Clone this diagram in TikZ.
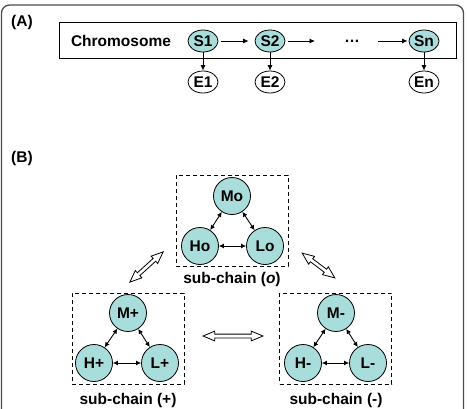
\documentclass[tikz,border=0pt]{standalone}
\usepackage{fontspec}
\setmainfont{Liberation Sans}
\usetikzlibrary{shapes.geometric,shapes.arrows,arrows.meta}
\definecolor{stateteal}{RGB}{168,221,219}
\begin{document}
\begin{tikzpicture}[x=1pt, y=-1pt, font=\bfseries\fontsize{15.5}{18}\selectfont]
	% Define styles
	\tikzstyle{state} = [ellipse, draw, line width=0.8pt, fill=stateteal, minimum width=30pt, minimum height=22pt, inner sep=0pt]
	\tikzstyle{emit} = [ellipse, draw, line width=0.8pt, fill=white, minimum width=30pt, minimum height=22pt, inner sep=0pt]
	\tikzstyle{hidden} = [circle, draw, line width=0.8pt, fill=stateteal, minimum size=37pt, inner sep=0pt]
	\tikzstyle{chainbox} = [draw, dash pattern=on 4pt off 3pt, line width=0.9pt, minimum width=112pt, minimum height=91pt]
	\tikzstyle{link} = [line width=0.8pt, -{Latex[length=5.5pt,width=5pt]}]
	\tikzstyle{swap} = [line width=0.9pt, {Latex[length=5pt,width=5pt]}-{Latex[length=5pt,width=5pt]}]
	\tikzstyle{hollow} = [double arrow, draw, line width=0.8pt, fill=white, sloped, inner xsep=0pt, inner ysep=1.5pt, double arrow head extend=3pt, double arrow tip angle=45]
	
	\useasboundingbox (0,0) rectangle (467,408);
	\clip (0,0) rectangle (467,408);
	\draw[gray!60!black, line width=1.3pt, rounded corners=8pt] (1.5,5) rectangle (463.5,430);
	
	% Part (A)
	\node (labA) at (22,22) {(A)};
	\node[draw, line width=0.8pt, minimum width=397pt, minimum height=36pt, anchor=north west, inner sep=0pt] (chrom) at (59,22) {};
	\node (chromlab) at (121,41) {Chromosome};
	\node[state] (s1) at (203,41) {S1};
	\node[state] (s2) at (270,41) {S2};
	\node (dots) at (352,41) {…};
	\node[state] (sn) at (424,41) {Sn};
	\node[emit] (e1) at (203,82) {E1};
	\node[emit] (e2) at (270,82) {E2};
	\node[emit] (en) at (424,82) {En};
	\coordinate (gapa) at (315,41);
	\coordinate (gapb) at (378,41);
	
	\draw[link, shorten <=3pt, shorten >=6pt] (s1) -- (s2);
	\draw[link, shorten <=3pt] (s2) -- (gapa);
	\draw[link, shorten >=1pt] (gapb) -- (sn);
	\draw[link] (s1) -- (e1);
	\draw[link] (s2) -- (e2);
	\draw[link] (sn) -- (en);
	
	% Part (B)
	\node (labB) at (22,158) {(B)};
	
	% sub-chain (o)
	\node[chainbox] (boxo) at (232,220.5) {};
	\node[hidden] (mo) at (232,196) {Mo};
	\node[hidden] (ho) at (200,246) {Ho};
	\node[hidden] (lo) at (265,246) {Lo};
	\node (labo) at (232,279) {sub-chain (\textit{o})};
	\draw[swap] (mo) -- (ho);
	\draw[swap] (mo) -- (lo);
	\draw[swap] (ho) -- (lo);
	
	% sub-chain (+)
	\node[chainbox] (boxp) at (128,338.5) {};
	\node[hidden] (mp) at (128,313) {M+};
	\node[hidden] (hp) at (94,363) {H+};
	\node[hidden] (lp) at (160,363) {L+};
	\node (labp) at (128,400) {sub-chain (+)};
	\draw[swap] (mp) -- (hp);
	\draw[swap] (mp) -- (lp);
	\draw[swap] (hp) -- (lp);
	
	% sub-chain (-)
	\node[chainbox] (boxm) at (335.5,338.5) {};
	\node[hidden] (mm) at (336,313) {M-};
	\node[hidden] (hm) at (303,363) {H-};
	\node[hidden] (lm) at (368,363) {L-};
	\node (labm) at (336,400) {sub-chain (-)};
	\draw[swap] (mm) -- (hm);
	\draw[swap] (mm) -- (lm);
	\draw[swap] (hm) -- (lm);
	
	% Transitions between sub-chains
	\coordinate (po1) at (130,282);
	\coordinate (po2) at (163,252);
	\coordinate (om1) at (302,253);
	\coordinate (om2) at (335,278);
	\coordinate (pm1) at (203,336);
	\coordinate (pm2) at (263,336);
	\path (po1) -- node[hollow, minimum height=45pt, minimum width=9pt] (swappo) {} (po2);
	\path (om1) -- node[hollow, minimum height=41pt, minimum width=9pt] (swapom) {} (om2);
	\path (pm1) -- node[hollow, minimum height=60pt, minimum width=9pt] (swappm) {} (pm2);
\end{tikzpicture}
\end{document}
